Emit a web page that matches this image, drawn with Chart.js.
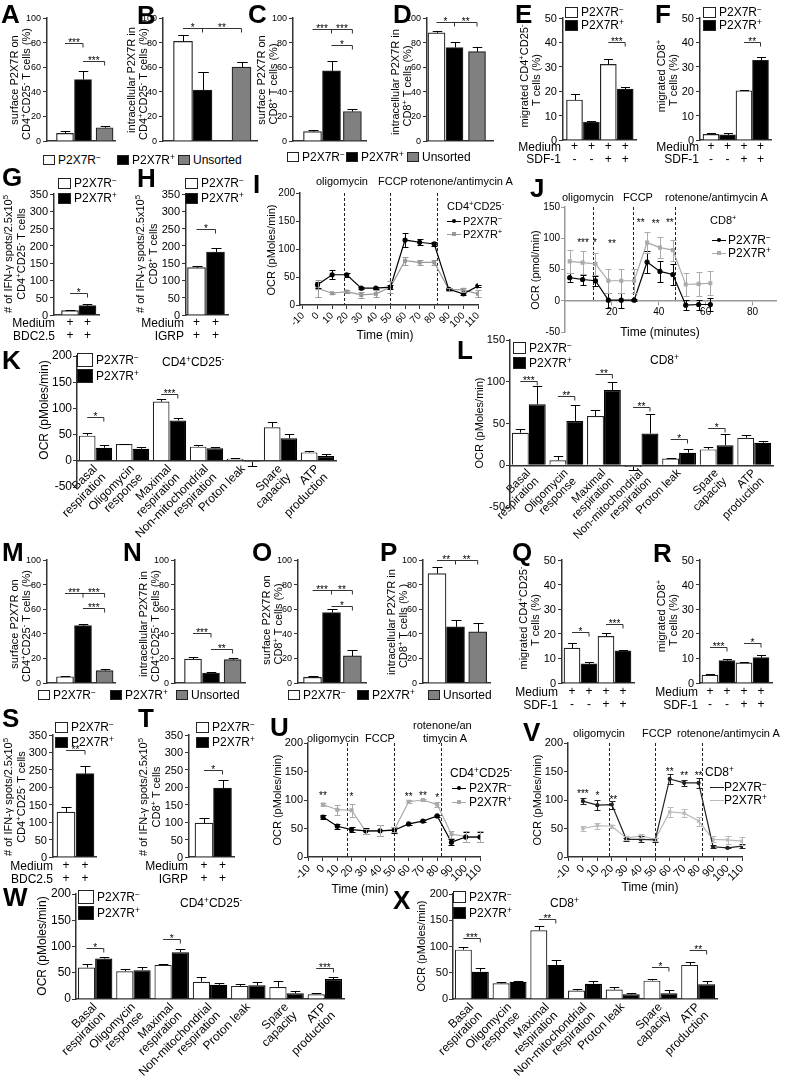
<!DOCTYPE html>
<html>
<head>
<meta charset="utf-8">
<script src="https://cdn.jsdelivr.net/npm/chart.js@4.4.1/dist/chart.umd.min.js"></script>
<style>
  body { margin: 0; background: #fff; }
  #fig { position: relative; width: 786px; height: 1080px; overflow: hidden;
         font-family: 'Liberation Sans', Arial, sans-serif; color: #000; }
  #fig canvas { position: absolute; }
  .t { position: absolute; white-space: nowrap; line-height: 1; }
  .t sup { font-size: 0.7em; line-height: 0; vertical-align: 0.5em; }
</style>
</head>
<body>
<div id="fig"></div>
<script>
// ---- values ----

// A-D, M-P : P2X7R in sorted fractions (%), order P2X7R-, P2X7R+, unsorted
const aVals = [6.2, 50, 10.8],  aErr = [8.4, 57, 12.4];
const bVals = [81, 41.5, 60],   bErr = [86, 56, 64.5];
const cVals = [7.6, 57, 24],    cErr = [8.9, 65, 26];
const dVals = [88, 76, 72.6],   dErr = [89.7, 80.5, 76.5];
const mVals = [5.1, 46.6, 10],  mErr = [6, 47.7, 11];
const nVals = [19.5, 8, 19],    nErr = [21, 8.8, 20.3];
const oVals = [4.6, 57.2, 22],  oErr = [5.9, 60, 26.8];
const pVals = [89, 45.7, 41.6], pErr = [94.3, 51.6, 48.9];

// E, F, Q, R : migration (%), bars P2X7R-, P2X7R+, P2X7R-, P2X7R+
const migLabels = [['+', '-'], ['+', '-'], ['+', '+'], ['+', '+']];
const eVals = [16.4, 7.3, 31, 20.9], eErr = [18.7, 7.7, 33, 21.6];
const fVals = [2.3, 2.1, 20.2, 32.7], fErr = [2.9, 2.7, 20.5, 33.9];
const qVals = [14.2, 7.8, 19, 13.1],  qErr = [16.3, 8.4, 20.3, 13.4];
const rVals = [3.2, 9.1, 8.2, 10.3],  rErr = [3.6, 9.7, 8.7, 11.3];

// G, H, S, T : IFN-g spots
const elispotLabels = [['+', '+'], ['+', '+']];
const gVals = [13, 27],   gErr = [15, 31];
const hVals = [137, 182], hErr = [143, 194];
const sVals = [129, 239], sErr = [144, 261];
const tVals = [97, 198],  tErr = [113, 222];

// I, U, V : OCR time course (min); J in minutes
const timeTicks = [-10, 0, 10, 20, 30, 40, 50, 60, 70, 80, 90, 100, 110];
const seaTime = [0, 10, 20, 30, 40, 50, 60, 70, 80, 90, 100, 110];
const iNeg = [36, 54, 54, 30, 30, 32, 116, 112, 109, 28, 20, 34];
const iNegErr = [5, 8, 4, 2, 2, 4, 12, 5, 3, 2, 2, 2];
const iPos = [30, 21, 24, 18, 20, 32, 79, 76, 76, 28, 27, 20];
const iPosErr = [15, 2, 3, 5, 6, 10, 7, 5, 5, 3, 4, 6];

const jTime = [2, 7.5, 13, 18.5, 24, 29.5, 35, 40.5, 46, 51.5, 57, 62];
const jTicks = [20, 40, 60, 80];
const jNeg = [37, 34, 32, 1, 1, 1, 62, 47, 42, -7, -6, -6];
const jNegErr = [7, 8, 8, 12, 12, 2, 17, 17, 17, 8, 8, 10];
const jPos = [63, 61, 59, 32, 32, 32, 93, 85, 81, 26, 27, 28];
const jPosErr = [18, 18, 18, 19, 19, 19, 17, 17, 17, 19, 19, 19];

const uNeg = [70, 54, 48, 46, 46, 47, 58, 63, 72, 26, 35, 35];
const uNegErr = [3, 4, 4, 5, 10, 5, 2, 2, 2, 5, 8, 8];
const uPos = [92, 83, 82, 45, 46, 48, 97, 100, 92, 40, 36, 36];
const uPosErr = [2, 9, 11, 4, 10, 5, 3, 2, 5, 6, 10, 10];

const vNeg = [98, 91, 92, 31, 31, 30, 137, 130, 130, 18, 16, 19];
const vNegErr = [5, 9, 7, 3, 5, 4, 9, 5, 9, 3, 1, 4];
const vPos = [50, 55, 54, 33, 37, 31, 79, 77, 63, 31, 30, 28];
const vPosErr = [5, 5, 3, 3, 4, 3, 9, 7, 8, 5, 7, 7];

// K, L, W, X : OCR parameters (pMoles/min)
const ocrParams = [['Basal', 'respiration'], ['Oligomycin', 'response'], ['Maximal', 'respiration'],
  ['Non-mitochondrial', 'respiration'], 'Proton leak', ['Spare', 'capacity'], ['ATP', 'production']];
const kNeg = [48, 32, 113, 27, 4, 64, 16], kNegErr = [53, 33, 118, 30, 5, 75, 18];
const kPos = [25, 23, 77, 24, -2, 43, 9],  kPosErr = [31, 27, 81, 27, -10, 51, 13];
const lNeg = [39, 6, 59, -2, 8, 19, 33],   lNegErr = [43, 11, 66, -6, 8.5, 22, 36];
const lPos = [73, 53, 90, 38, 15, 24, 27], lPosErr = [95, 72, 100, 61, 19, 37, 29];
const wNeg = [60, 53, 65, 33, 25, 23, 9],  wNegErr = [66, 58, 66, 42, 28, 34, 12];
const wPos = [77, 55, 89, 27, 26, 11, 38], wPosErr = [80, 61, 96, 30, 32, 15, 41];
const xNeg = [94, 30, 131, 16, 18, 35, 65], xNegErr = [100, 33, 140, 19, 22, 39, 71];
const xPos = [52, 33, 65, 29, 9, 11, 28],   xPosErr = [59, 35, 75, 35, 11, 18, 35];

// ---- setup ----
Chart.defaults.font.family = "'Liberation Sans', Arial, sans-serif";
Chart.defaults.color = '#000';
Chart.defaults.animation = false;
Chart.defaults.plugins.legend.display = false;
Chart.defaults.plugins.tooltip.enabled = false;

const AXIS = '#333', GRAY = '#808080';
const NEG = 'P2X7R<sup>−</sup>', POS = 'P2X7R<sup>+</sup>';
const CD4 = 'CD4<sup>+</sup>CD25<sup>-</sup>', CD8 = 'CD8<sup>+</sup>';
const FONT = "'Liberation Sans', Arial, sans-serif";

// error bars: errTo = end value (one sided), errPm = +/- value
const errorBars = {
  id: 'errbars',
  afterDatasetsDraw(chart) {
    const ctx = chart.ctx, ys = chart.scales.y;
    chart.data.datasets.forEach((ds, di) => {
      if (!ds.errTo && !ds.errPm) return;
      const meta = chart.getDatasetMeta(di);
      ctx.save();
      ctx.strokeStyle = ds.errColor || '#000';
      ctx.lineWidth = 1;
      meta.data.forEach((pt, i) => {
        const raw = ds.data[i];
        const v = typeof raw === 'object' ? raw.y : raw;
        const ends = ds.errTo ? [ds.errTo[i]] : [v - ds.errPm[i], v + ds.errPm[i]];
        const cap = ds.errTo ? pt.width * 0.28 : 3;
        const x = Math.round(pt.x) + 0.5;
        ctx.beginPath();
        ends.forEach(e => {
          const yy = Math.round(ys.getPixelForValue(e)) + 0.5;
          ctx.moveTo(x, ys.getPixelForValue(v));
          ctx.lineTo(x, yy);
          ctx.moveTo(x - cap, yy);
          ctx.lineTo(x + cap, yy);
        });
        ctx.stroke();
      });
      ctx.restore();
    });
  }
};

const sigMarks = {
  id: 'sigmarks',
  afterDatasetsDraw(chart) {
    const items = chart.data.marks;
    if (!items) return;
    const {ctx, scales: {x, y}} = chart;
    ctx.save();
    ctx.strokeStyle = '#333';
    ctx.fillStyle = '#000';
    ctx.lineWidth = 1;
    ctx.font = '10px ' + FONT;
    ctx.textAlign = 'center';
    ctx.textBaseline = 'alphabetic';
    for (const it of items) {
      if (it.star) {
        ctx.fillText(it.star, x.getPixelForValue(it.t), y.getPixelForValue(it.y) + 6);
        continue;
      }
      const xs = it.pts.map(p => {
        const [d, i] = Array.isArray(p) ? p : [0, p];
        return chart.getDatasetMeta(d).data[i].x;
      });
      const yp = Math.round(y.getPixelForValue(it.y)) + 0.5;
      ctx.beginPath();
      ctx.moveTo(xs[0], yp);
      ctx.lineTo(xs[xs.length - 1], yp);
      xs.slice(1).forEach(xx => { ctx.moveTo(xx, yp); ctx.lineTo(xx, yp + 4); });
      ctx.stroke();
      it.text.forEach((t, k) => ctx.fillText(t, (xs[k] + xs[k + 1]) / 2, yp + 2));
    }
    ctx.restore();
  }
};

const injections = {
  id: 'injectlines',
  beforeDatasetsDraw(chart) {
    const at = chart.data.inject;
    if (!at) return;
    const {ctx, chartArea, scales: {x, y}} = chart;
    ctx.save();
    ctx.setLineDash([3, 2]);
    ctx.strokeStyle = '#222';
    ctx.lineWidth = 1;
    const y0 = y.getPixelForValue(0);
    at.forEach(t => {
      const xx = Math.round(x.getPixelForValue(t)) + 0.5;
      ctx.beginPath();
      ctx.moveTo(xx, chartArea.top);
      ctx.lineTo(xx, y0);
      ctx.stroke();
    });
    ctx.restore();
  }
};
Chart.register(errorBars, sigMarks, injections);

const fig = document.getElementById('fig');

function el(html, css) {
  const d = document.createElement('div');
  d.className = 't';
  d.innerHTML = html;
  Object.assign(d.style, css);
  fig.appendChild(d);
  return d;
}
function label(html, x, cy, size = 12, align = 'l') {
  const tx = align === 'r' ? '-100%' : align === 'c' ? '-50%' : '0';
  return el(html, {left: x + 'px', top: cy + 'px', fontSize: size + 'px',
    transform: 'translate(' + tx + ',-50%)'});
}
function vlabel(html, cx, cy, size = 11) {
  return el(html, {left: cx + 'px', top: cy + 'px', fontSize: size + 'px',
    transform: 'translate(-50%,-50%) rotate(-90deg)'});
}
function letter(ch, x, cy) {
  const d = label(ch, x, cy, 26);
  d.style.fontWeight = 'bold';
}
function barKey(x, cy, fill, text, size = 12, w = 12, h = 10) {
  el('', {left: x + 'px', top: (cy - h / 2) + 'px', width: (w - 2) + 'px', height: (h - 2) + 'px',
    border: '1px solid #222', background: fill});
  label(text, x + w + 3, cy, size);
}
function lineKey(x, cy, color, shape) {
  el('', {left: x + 'px', top: (cy - 0.5) + 'px', width: '14px', height: '1px', background: color});
  if (shape) el('', {left: (x + 5) + 'px', top: (cy - 2) + 'px', width: '4px', height: '4px',
    background: color, borderRadius: shape === 'circle' ? '50%' : '0'});
}

// put a chart so that its axes land on the given pixels
function place(g, cfg) {
  const padL = g.padL ?? 30, padR = g.padR ?? 8, padT = g.padT ?? 10, padB = g.padB ?? 30;
  const left = Math.round(g.ax) - padL, top = Math.round(g.yTop) - padT;
  const w = Math.round(g.x1) + padR - left, h = Math.round(g.yBot) + padB - top;
  const cv = document.createElement('canvas');
  cv.width = w; cv.height = h;
  cv.style.left = left + 'px'; cv.style.top = top + 'px';
  fig.appendChild(cv);
  const o = cfg.options;
  o.responsive = false;
  o.devicePixelRatio = 1;
  o.layout = {padding: {left: 0, top: padT, right: padR, bottom: g.freeX ? padB : 0}};
  o.scales.y.afterFit = s => { s.width = padL; };
  if (!g.freeX) o.scales.x.afterFit = s => { s.height = padB; };
  const chart = new Chart(cv, cfg);
  chart.$left = left;
  chart.$top = top;
  return chart;
}

function yAxis(min, max, step, fs, color = AXIS) {
  return {
    min, max,
    ticks: {stepSize: step, font: {size: fs}, padding: 1, color: '#000'},
    grid: {display: true, drawOnChartArea: false, drawTicks: true, tickLength: 4, color: color},
    border: {display: true, color: color, width: 1.5}
  };
}

function barPanel(g, vals, errs, colors, slots, labels, marks) {
  const xAxis = {
    type: 'linear', offset: false,
    min: (g.ax - g.c0) / g.step, max: (g.x1 - g.c0) / g.step,
    afterBuildTicks: s => { s.ticks = slots.map(v => ({value: v})); },
    ticks: {display: !!labels, autoSkip: false, maxRotation: 0, padding: g.tp ?? 1,
      font: {size: 12, lineHeight: 1.08}, callback: (v, i) => labels ? labels[i] : ''},
    grid: {display: false, drawTicks: false},
    border: {display: true, color: AXIS, width: 1.5}
  };
  const yA = yAxis(0, g.yMax, g.yStep, g.fs);
  yA.ticks.display = false;
  const chart = place(g, {
    type: 'bar',
    data: {marks, datasets: [{
      data: slots.map((s, i) => ({x: s, y: vals[i]})),
      backgroundColor: colors, borderColor: '#222', borderWidth: 1.2,
      barThickness: Math.round(g.step * 0.96), errTo: errs
    }]},
    options: {scales: {x: xAxis, y: yA}}
  });
  // y tick numbers as page text, placed from the chart's own y scale
  const ys = chart.scales.y;
  ys.ticks.forEach(t => label(String(t.value), chart.$left + ys.right - 6,
    chart.$top + ys.getPixelForValue(t.value), g.fs, 'r'));
  return chart;
}

function paramPanel(g, neg, negErr, pos, posErr, marks) {
  const xAxis = {
    type: 'category', offset: true,
    ticks: {autoSkip: false, minRotation: 45, maxRotation: 45, padding: 2,
      font: {size: g.xfs || 12, lineHeight: 1.0}},
    grid: {display: false, drawTicks: false},
    border: {display: true, color: AXIS, width: 1.5}
  };
  if (g.freeX) xAxis.position = {y: 0};
  const common = {borderWidth: 1.2, categoryPercentage: 0.9, barPercentage: 1};
  return place(g, {
    type: 'bar',
    data: {labels: ocrParams, marks, datasets: [
      Object.assign({data: neg, backgroundColor: '#fff', borderColor: '#222', errTo: negErr}, common),
      Object.assign({data: pos, backgroundColor: '#000', borderColor: '#000', errTo: posErr}, common)
    ]},
    options: {scales: {x: xAxis, y: yAxis(g.yMin, g.yMax, 50, g.fs)}}
  });
}

function lineSet(times, vals, errs, color, shape, r = 2) {
  return {
    data: times.map((t, i) => ({x: t, y: vals[i]})),
    borderColor: color, backgroundColor: color, borderWidth: 1.2,
    pointRadius: r, pointStyle: shape, errPm: errs, errColor: color, tension: 0
  };
}

function timePanel(g, sets) {
  const col = g.axis || AXIS;
  const xAxis = {
    type: 'linear', min: g.xMin, max: g.xMax,
    afterBuildTicks: s => { s.ticks = g.xTicks.map(v => ({value: v})); },
    ticks: {autoSkip: false, minRotation: g.rot, maxRotation: g.rot, padding: 1, font: {size: g.fs}},
    grid: {display: true, drawOnChartArea: false, tickLength: 4, color: col},
    border: {display: true, color: col, width: 1.5}
  };
  if (g.freeX) xAxis.position = {y: 0};
  return place(g, {
    type: 'line',
    data: {datasets: sets, inject: g.inject, marks: g.marks},
    options: {scales: {x: xAxis, y: yAxis(g.yMin, g.yMax, 50, g.fs, col)}}
  });
}

const sortColors = ['#fff', '#000', GRAY];
const pairColors = ['#fff', '#000', '#fff', '#000'];

// ---- row 1 ----
barPanel({ax: 47, x1: 115, yTop: 18, yBot: 141, c0: 65, step: 18, yMax: 100, yStep: 20, fs: 9, padB: 3},
  aVals, aErr, sortColors, [0, 1, 2.2], null,
  [{pts: [0, 1], y: 80, text: ['***']}, {pts: [1, 2], y: 65, text: ['***']}]);
barPanel({ax: 163, x1: 257, yTop: 18, yBot: 141, c0: 183, step: 19.5, yMax: 100, yStep: 20, fs: 9, padB: 3},
  bVals, bErr, sortColors, [0, 1, 3], null,
  [{pts: [0, 1, 2], y: 92, text: ['*', '**']}]);
barPanel({ax: 293, x1: 366, yTop: 18, yBot: 141, c0: 312.5, step: 19, yMax: 100, yStep: 20, fs: 9, padB: 3},
  cVals, cErr, sortColors, [0, 1, 2.1], null,
  [{pts: [0, 1, 2], y: 91, text: ['***', '***']}, {pts: [1, 2], y: 78, text: ['*']}]);
barPanel({ax: 427, x1: 493, yTop: 18, yBot: 141, c0: 436.5, step: 18, yMax: 100, yStep: 20, fs: 9, padB: 3},
  dVals, dErr, sortColors, [0, 1, 2.25], null,
  [{pts: [0, 1, 2], y: 97, text: ['*', '**']}]);
barPanel({ax: 563, x1: 636, yTop: 18, yBot: 140, c0: 574.5, step: 16.9, yMax: 50, yStep: 10, fs: 11, tp: 0},
  eVals, eErr, pairColors, [0, 1, 2, 3], migLabels,
  [{pts: [2, 3], y: 40, text: ['***']}]);
barPanel({ax: 700, x1: 771, yTop: 18, yBot: 140, c0: 711, step: 16.5, yMax: 50, yStep: 10, fs: 11, tp: 0},
  fVals, fErr, pairColors, [0, 1, 2, 3], migLabels,
  [{pts: [2, 3], y: 40, text: ['**']}]);

// ---- row 2 ----
barPanel({ax: 54, x1: 99, yTop: 194, yBot: 315, c0: 70, step: 17.5, yMax: 350, yStep: 50, fs: 11, tp: 1.5},
  gVals, gErr, ['#fff', '#000'], [0, 1], elispotLabels,
  [{pts: [0, 1], y: 63, text: ['*']}]);
barPanel({ax: 186, x1: 228, yTop: 194, yBot: 315, c0: 196.5, step: 19, yMax: 350, yStep: 50, fs: 11, tp: 1.5},
  hVals, hErr, ['#fff', '#000'], [0, 1], elispotLabels,
  [{pts: [0, 1], y: 250, text: ['*']}]);
timePanel({ax: 300, x1: 478, yTop: 193, yBot: 305, xMin: -12, xMax: 110, xTicks: timeTicks, rot: 45,
  yMin: 0, yMax: 200, fs: 10, padB: 30, padR: 12, inject: [18, 49.5, 82]},
  [lineSet(seaTime, iNeg, iNegErr, '#000', 'circle'), lineSet(seaTime, iPos, iPosErr, '#999', 'rect')]);
timePanel({ax: 565, x1: 776, yTop: 207, yBot: 333, xMin: 0, xMax: 90, xTicks: jTicks, rot: 0,
  yMin: -50, yMax: 150, fs: 10, freeX: true, padB: 6, padR: 8, axis: '#999', inject: [12, 29, 47],
  marks: [{t: 7.7, y: 98, star: '***'}, {t: 12.8, y: 98, star: '*'}, {t: 20, y: 96, star: '**'},
          {t: 32.3, y: 130, star: '**'}, {t: 38.7, y: 128, star: '**'}, {t: 44.7, y: 130, star: '**'}]},
  [lineSet(jTime, jNeg, jNegErr, '#000', 'circle'), lineSet(jTime, jPos, jPosErr, '#aaa', 'rect')]);

// ---- row 3 ----
paramPanel({ax: 77, x1: 336, yTop: 356, yBot: 487, yMin: -50, yMax: 200, fs: 12, freeX: true, padB: 65, padL: 45},
  kNeg, kNegErr, kPos, kPosErr,
  [{pts: [[0, 0], [1, 0]], y: 83, text: ['*']}, {pts: [[0, 2], [1, 2]], y: 127, text: ['***']}]);
paramPanel({ax: 510, x1: 773, yTop: 340, yBot: 507, yMin: -50, yMax: 150, fs: 11, xfs: 11.5, freeX: true, padB: 45, padL: 45},
  lNeg, lNegErr, lPos, lPosErr,
  [{pts: [[0, 0], [1, 0]], y: 101, text: ['***']}, {pts: [[0, 1], [1, 1]], y: 83, text: ['**']},
   {pts: [[0, 2], [1, 2]], y: 109, text: ['**']}, {pts: [[0, 3], [1, 3]], y: 70, text: ['**']},
   {pts: [[0, 4], [1, 4]], y: 31, text: ['*']}, {pts: [[0, 5], [1, 5]], y: 45, text: ['*']}]);

// ---- row 4 ----
barPanel({ax: 47, x1: 115, yTop: 560, yBot: 683, c0: 65, step: 18, yMax: 100, yStep: 20, fs: 9, padB: 3},
  mVals, mErr, sortColors, [0, 1, 2.2], null,
  [{pts: [0, 1, 2], y: 73, text: ['***', '***']}, {pts: [1, 2], y: 61, text: ['***']}]);
barPanel({ax: 175, x1: 245, yTop: 560, yBot: 683, c0: 193, step: 18, yMax: 100, yStep: 20, fs: 9, padB: 3},
  nVals, nErr, sortColors, [0, 1, 2.2], null,
  [{pts: [0, 1], y: 40.5, text: ['***']}, {pts: [1, 2], y: 28, text: ['**']}]);
barPanel({ax: 298, x1: 366, yTop: 560, yBot: 683, c0: 312.5, step: 19, yMax: 100, yStep: 20, fs: 9, padB: 3},
  oVals, oErr, sortColors, [0, 1, 2.1], null,
  [{pts: [0, 1, 2], y: 76, text: ['***', '**']}, {pts: [1, 2], y: 63, text: ['*']}]);
barPanel({ax: 423, x1: 490, yTop: 560, yBot: 683, c0: 437, step: 18.5, yMax: 100, yStep: 20, fs: 9, padB: 3},
  pVals, pErr, sortColors, [0, 1, 2.2], null,
  [{pts: [0, 1, 2], y: 100, text: ['**', '**']}]);
barPanel({ax: 562, x1: 634, yTop: 560, yBot: 683, c0: 572, step: 17, yMax: 50, yStep: 10, fs: 11, tp: 2.5},
  qVals, qErr, pairColors, [0, 1, 2, 3], migLabels,
  [{pts: [0, 1], y: 20.7, text: ['*']}, {pts: [2, 3], y: 24, text: ['***']}]);
barPanel({ax: 700, x1: 772, yTop: 560, yBot: 683, c0: 710, step: 17, yMax: 50, yStep: 10, fs: 11, tp: 2.5},
  rVals, rErr, pairColors, [0, 1, 2, 3], migLabels,
  [{pts: [0, 1], y: 14.6, text: ['***']}, {pts: [2, 3], y: 16.2, text: ['*']}]);

// ---- row 5 ----
barPanel({ax: 53, x1: 96, yTop: 735, yBot: 857, c0: 66, step: 19, yMax: 350, yStep: 50, fs: 11, tp: 2.5},
  sVals, sErr, ['#fff', '#000'], [0, 1], elispotLabels,
  [{pts: [0, 1], y: 308, text: ['**']}]);
barPanel({ax: 189, x1: 234, yTop: 735, yBot: 857, c0: 204, step: 18.5, yMax: 350, yStep: 50, fs: 11, tp: 2.5},
  tVals, tErr, ['#fff', '#000'], [0, 1], elispotLabels,
  [{pts: [0, 1], y: 251, text: ['*']}]);
timePanel({ax: 308, x1: 480, yTop: 743, yBot: 857, xMin: -10.5, xMax: 110, xTicks: timeTicks, rot: 45,
  yMin: 0, yMax: 200, fs: 11, padB: 30, padR: 12, inject: [17, 50, 83],
  marks: [{t: 0, y: 113, star: '**'}, {t: 20, y: 110, star: '*'}, {t: 60, y: 111, star: '**'},
          {t: 70, y: 112, star: '**'}, {t: 80, y: 108, star: '*'}]},
  [lineSet(seaTime, uNeg, uNegErr, '#000', 'circle'), lineSet(seaTime, uPos, uPosErr, '#aaa', 'rect')]);
timePanel({ax: 568, x1: 742, yTop: 743, yBot: 857, xMin: -10.3, xMax: 110, xTicks: timeTicks, rot: 45,
  yMin: 0, yMax: 200, fs: 11, padB: 30, padR: 12, inject: [18, 50, 82],
  marks: [{t: 0, y: 116, star: '***'}, {t: 10, y: 113, star: '*'}, {t: 21, y: 106, star: '**'},
          {t: 60, y: 154, star: '**'}, {t: 70, y: 147, star: '**'}, {t: 80, y: 147, star: '**'}]},
  [lineSet(seaTime, vNeg, vNegErr, '#222', 'circle', 1.5), lineSet(seaTime, vPos, vPosErr, '#bbb', 'rect', 1.5)]);

// ---- row 6 ----
paramPanel({ax: 76, x1: 344, yTop: 894, yBot: 999, yMin: 0, yMax: 200, fs: 12, padB: 80, padL: 45},
  wNeg, wNegErr, wPos, wPosErr,
  [{pts: [[0, 0], [1, 0]], y: 97, text: ['*']}, {pts: [[0, 2], [1, 2]], y: 114, text: ['*']},
   {pts: [[0, 6], [1, 6]], y: 59, text: ['***']}]);
paramPanel({ax: 453, x1: 717, yTop: 894, yBot: 999, yMin: 0, yMax: 200, fs: 11, padB: 80, padL: 45},
  xNeg, xNegErr, xPos, xPosErr,
  [{pts: [[0, 0], [1, 0]], y: 116, text: ['***']}, {pts: [[0, 2], [1, 2]], y: 152, text: ['**']},
   {pts: [[0, 5], [1, 5]], y: 61, text: ['*']}, {pts: [[0, 6], [1, 6]], y: 93, text: ['**']}]);

// ---- text: panel letters ----
[['A', 1, 14], ['B', 137, 15], ['C', 248, 14], ['D', 393, 14], ['E', 515, 14], ['F', 655, 14],
 ['G', 2, 177], ['H', 137, 178], ['I', 253, 184], ['J', 530, 188], ['K', 2, 360], ['L', 457, 350],
 ['M', 2, 552], ['N', 123, 552], ['O', 252, 552], ['P', 380, 552], ['Q', 512, 552], ['R', 653, 553],
 ['S', 2, 718], ['T', 138, 718], ['U', 270, 727], ['V', 523, 732], ['W', 3, 897], ['X', 393, 900]]
  .forEach(([c, x, y]) => letter(c, x, y));

// ---- axis titles ----
const IFN = '# of IFN-γ spots/2.5x10<sup>5</sup>';
vlabel('surface P2X7R on', 14, 80); vlabel(CD4 + ' T cells (%)', 26, 84);
vlabel('intracellular P2X7R in', 131, 80); vlabel(CD4 + ' T cells (%)', 143, 84);
vlabel('surface P2X7R on', 261, 80); vlabel(CD8 + ' T cells (%)', 273, 84);
vlabel('intracellular P2X7R in', 395, 82); vlabel(CD8 + ' T cells (%)', 407, 86);
vlabel('migrated ' + CD4, 524, 76); vlabel('T cells (%)', 536, 80);
vlabel('migrated ' + CD8, 661, 76); vlabel('T cells (%)', 673, 80);
vlabel(IFN, 8, 254); vlabel(CD4 + ' T cells', 21, 254);
vlabel(IFN, 140, 254); vlabel(CD8 + ' T cells', 153, 254);
vlabel('OCR (pMoles/min)', 271, 250);
vlabel('OCR (pmol/min)', 535, 270);
vlabel('OCR (pMoles/min)', 44, 410, 12);
vlabel('OCR (pMoles/min)', 479, 423);
vlabel('surface P2X7R on', 14, 624); vlabel(CD4 + ' T cells (%)', 26, 626);
vlabel('intracellular P2X7R in', 143, 624); vlabel(CD4 + ' T cells (%)', 155, 626);
vlabel('surface P2X7R on', 266, 620); vlabel(CD8 + ' T cells (%)', 278, 624);
vlabel('intracellular P2X7R in', 391, 622); vlabel(CD8 + ' T cells (% )', 403, 626);
vlabel('migrated ' + CD4, 523, 618); vlabel('T cells (%)', 535, 620);
vlabel('migrated ' + CD8, 661, 616); vlabel('T cells (%)', 673, 620);
vlabel(IFN, 8, 797); vlabel(CD4 + ' T cells', 21, 797);
vlabel(IFN, 143, 797); vlabel(CD8 + ' T cells', 156, 797);
vlabel('OCR (pMoles/min)', 277, 800);
vlabel('OCR (pMoles/min)', 537, 800);
vlabel('OCR (pMoles/min)', 42, 946, 12);
vlabel('OCR (pMoles/min)', 421, 946);
label('Time (min)', 385, 335, 12, 'c');
label('Time (minutes)', 660, 332, 12, 'c');
label('Time (min)', 360, 889, 12, 'c');
label('Time (min)', 650, 887, 12, 'c');

// ---- condition rows ----
[[561, 147, 159, 'SDF-1'], [699, 147, 159, 'SDF-1'], [558, 692, 705, 'SDF-1'], [698, 692, 705, 'SDF-1'],
 [55, 323, 336, 'BDC2.5'], [184, 323, 336, 'IGRP'], [53, 866, 879, 'BDC2.5'], [188, 866, 879, 'IGRP']]
  .forEach(([x, y1, y2, t]) => { label('Medium', x, y1, 12, 'r'); label(t, x, y2, 12, 'r'); });

// ---- injections ----
label('oligomycin', 316, 181, 11); label('FCCP', 378, 181, 11); label('rotenone/antimycin A', 410, 181, 11);
label('oligomycin', 562, 197, 11); label('FCCP', 623, 197, 11); label('rotenone/antimycin A', 665, 197, 11);
label('oligomycin', 307, 738, 11); label('FCCP', 365, 738, 11);
label('rotenone/an', 413, 725, 11); label('timycin A', 423, 738, 11);
label('oligomycin', 573, 733, 11); label('FCCP', 642, 733, 11); label('rotenone/antimycin A', 677, 733, 11);

// ---- legends ----
barKey(43, 160, '#fff', NEG); barKey(117, 160, '#000', POS); barKey(178, 160, GRAY, 'Unsorted');
barKey(287, 157, '#fff', NEG); barKey(346, 157, '#000', POS); barKey(407, 157, GRAY, 'Unsorted');
barKey(38, 695, '#fff', NEG); barKey(110, 695, '#000', POS); barKey(176, 695, GRAY, 'Unsorted');
barKey(288, 695, '#fff', NEG); barKey(357, 695, '#000', POS); barKey(428, 695, GRAY, 'Unsorted');
barKey(565, 12, '#fff', NEG, 12, 13, 11); barKey(565, 25, '#000', POS, 12, 13, 11);
barKey(703, 12, '#fff', NEG, 12, 13, 11); barKey(703, 25, '#000', POS, 12, 13, 11);
barKey(58, 183, '#fff', NEG, 12, 13, 11); barKey(58, 198, '#000', POS, 12, 13, 11);
barKey(185, 183, '#fff', NEG, 12, 13, 11); barKey(185, 198, '#000', POS, 12, 13, 11);
barKey(55, 727, '#fff', NEG, 12, 13, 11); barKey(55, 742, '#000', POS, 12, 13, 11);
barKey(196, 727, '#fff', NEG, 12, 13, 11); barKey(196, 742, '#000', POS, 12, 13, 11);
barKey(77, 360, '#fff', NEG, 12, 16, 14); barKey(77, 376, '#000', POS, 12, 16, 14);
label(CD4, 162, 362, 12);
barKey(513, 348, '#fff', NEG, 12, 13, 12); barKey(513, 363, '#000', POS, 12, 13, 12);
label(CD8, 650, 360, 12);
barKey(78, 897, '#fff', NEG, 12, 16, 14); barKey(78, 913, '#000', POS, 12, 16, 14);
label(CD4, 180, 903, 12);
barKey(453, 897, '#fff', NEG, 12, 13, 12); barKey(453, 913, '#000', POS, 12, 13, 12);
label(CD8, 550, 903, 12);

label(CD4, 447, 206, 11); lineKey(447, 221, '#000', 'circle'); label(NEG, 463, 221, 11);
lineKey(447, 234, '#999', 'rect'); label(POS, 463, 234, 11);
label(CD8, 710, 220, 11); lineKey(712, 240, '#000', 'circle'); label(NEG, 728, 240, 12);
lineKey(712, 253, '#aaa', 'rect'); label(POS, 728, 253, 12);
label(CD4, 450, 773, 12); lineKey(452, 788, '#000', 'circle'); label(NEG, 469, 788, 12);
lineKey(452, 802, '#aaa', 'rect'); label(POS, 469, 802, 12);
label(CD8, 705, 772, 12); lineKey(710, 787, '#222', null); label(NEG, 724, 787, 12);
lineKey(710, 800, '#bbb', null); label(POS, 724, 800, 12);
</script>
</body>
</html>
